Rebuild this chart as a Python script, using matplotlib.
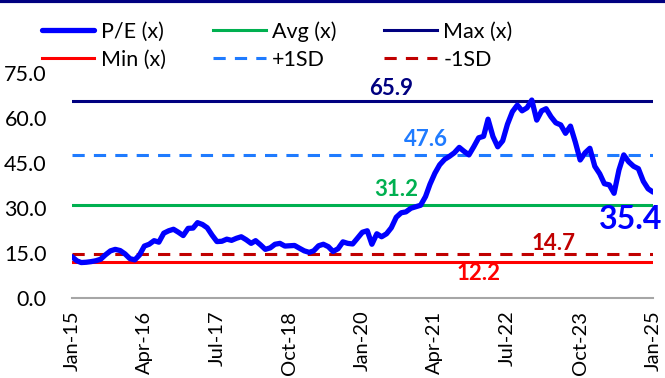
import pandas as pd
import numpy as np
import matplotlib.pyplot as plt
import matplotlib.dates as mdates
from matplotlib.lines import Line2D

# monthly P/E, Jan-15 .. Jan-25
pe = [13.9, 12.5, 11.9, 12.0, 12.2, 12.5, 13.0, 14.5, 15.8, 16.3,
      15.9, 14.8, 13.2, 12.8, 14.4, 17.4, 18.0, 19.2, 18.7, 21.7,
      22.5, 23.0, 22.0, 20.9, 23.3, 23.4, 25.2, 24.6, 23.5, 21.0,
      18.9, 19.0, 19.7, 19.3, 20.0, 20.5, 19.5, 18.3, 19.2, 17.8,
      16.3, 16.8, 18.0, 18.3, 17.4, 17.5, 17.6, 16.7, 15.8, 15.3,
      15.8, 17.5, 18.0, 17.2, 15.6, 16.5, 18.8, 18.3, 18.1, 20.0,
      22.0, 22.5, 18.0, 21.5, 20.5, 21.5, 23.5, 27.0, 28.5, 28.8,
      30.0, 30.5, 31.0, 33.9, 38.0, 41.7, 44.5, 46.3, 47.3, 48.5,
      50.3, 49.0, 47.8, 50.5, 53.5, 54.0, 59.7, 53.9, 50.5, 52.5,
      58.0, 62.2, 64.4, 62.5, 63.5, 66.1, 59.4, 62.5, 63.2, 60.5,
      58.5, 57.8, 55.0, 57.4, 52.0, 46.1, 48.5, 50.0, 44.0, 41.5,
      38.2, 37.8, 35.0, 42.8, 47.8, 45.5, 44.0, 43.2, 39.0, 36.5,
      35.4]
dates = pd.date_range('2015-01-01', periods=len(pe), freq='MS')

pe_max = 65.9
pe_avg = 31.2
pe_min = 12.2
plus_sd = 47.6
minus_sd = 14.7

tick_dates = pd.date_range('2015-01-01', '2025-01-01', freq='15MS')

plt.rcParams['font.family'] = ['Lato', 'DejaVu Sans']

fig = plt.figure(figsize=(6.65, 3.78), dpi=100)
ax = fig.add_axes([0.108, 0.211, 0.874, 0.595])

x0, x1 = dates[0], dates[-1]
l_max, = ax.plot([x0, x1], [pe_max] * 2, color='#000080', lw=2.2)
l_avg, = ax.plot([x0, x1], [pe_avg] * 2, color='#00B050', lw=2.2)
l_min, = ax.plot([x0, x1], [pe_min] * 2, color='#FF0000', lw=2.2)
l_p1, = ax.plot([x0, x1], [plus_sd] * 2, color='#1F7BFF', lw=2.2, ls=(0, (4, 3)))
l_m1, = ax.plot([x0, x1], [minus_sd] * 2, color='#C00000', lw=2.2, ls=(0, (4, 3)))
l_pe, = ax.plot(dates, pe, color='#0000FF', lw=3.8, solid_capstyle='round')

# value labels
lab_kw = dict(ha='center', va='center', fontsize=16, fontweight='bold')
ax.text(pd.Timestamp('2020-07-01'), 70.1, f'{pe_max}', color='#000080', **lab_kw)
ax.text(pd.Timestamp('2021-02-01'), 53.1, f'{plus_sd}', color='#1F7BFF', **lab_kw)
ax.text(pd.Timestamp('2020-08-01'), 36.1, f'{pe_avg}', color='#00B050', **lab_kw)
ax.text(pd.Timestamp('2023-04-15'), 18.4, f'{minus_sd}', color='#C00000', **lab_kw)
ax.text(pd.Timestamp('2022-01-01'), 8.4, f'{pe_min}', color='#FF0000', **lab_kw)
ax.text(pd.Timestamp('2024-08-15'), 26.4, f'{pe[-1]}', color='#0000FF',
        ha='center', va='center', fontsize=23, fontweight='bold')

ax.set_xlim(x0, x1)
ax.set_ylim(0, 75)
ax.set_yticks(np.arange(0, 76, 15))
ax.yaxis.set_major_formatter(plt.FuncFormatter(lambda v, p: f'{v:.1f}'))
ax.set_xticks(tick_dates)
ax.xaxis.set_major_formatter(mdates.DateFormatter('%b-%y'))
ax.tick_params(axis='x', rotation=90, length=0, pad=9, labelsize=14.5)
ax.tick_params(axis='y', length=0, pad=18, labelsize=15.5)
for s in ['top', 'right', 'left']:
    ax.spines[s].set_visible(False)
ax.spines['bottom'].set_color('#A6A6A6')
ax.spines['bottom'].set_linewidth(1.5)

handles = [l_pe, l_avg, l_max, l_min, l_p1, l_m1]
labels = ['P/E (x)', 'Avg (x)', 'Max (x)', 'Min (x)', '+1SD', '-1SD']
# legend is filled row by row in the original
order = [0, 3, 1, 4, 2, 5]
fig.legend([handles[i] for i in order], [labels[i] for i in order],
           ncol=3, loc='upper left', bbox_to_anchor=(0.043, 0.978),
           frameon=False, fontsize=15.5, handlelength=2.45,
           columnspacing=2.2, labelspacing=0.36, handletextpad=0.3,
           borderaxespad=0.2)

# navy rule along the top edge
fig.add_artist(Line2D([0, 1], [0.997, 0.997], color='#000080', lw=3,
                      transform=fig.transFigure))

fig.savefig('out.png', dpi=100)
